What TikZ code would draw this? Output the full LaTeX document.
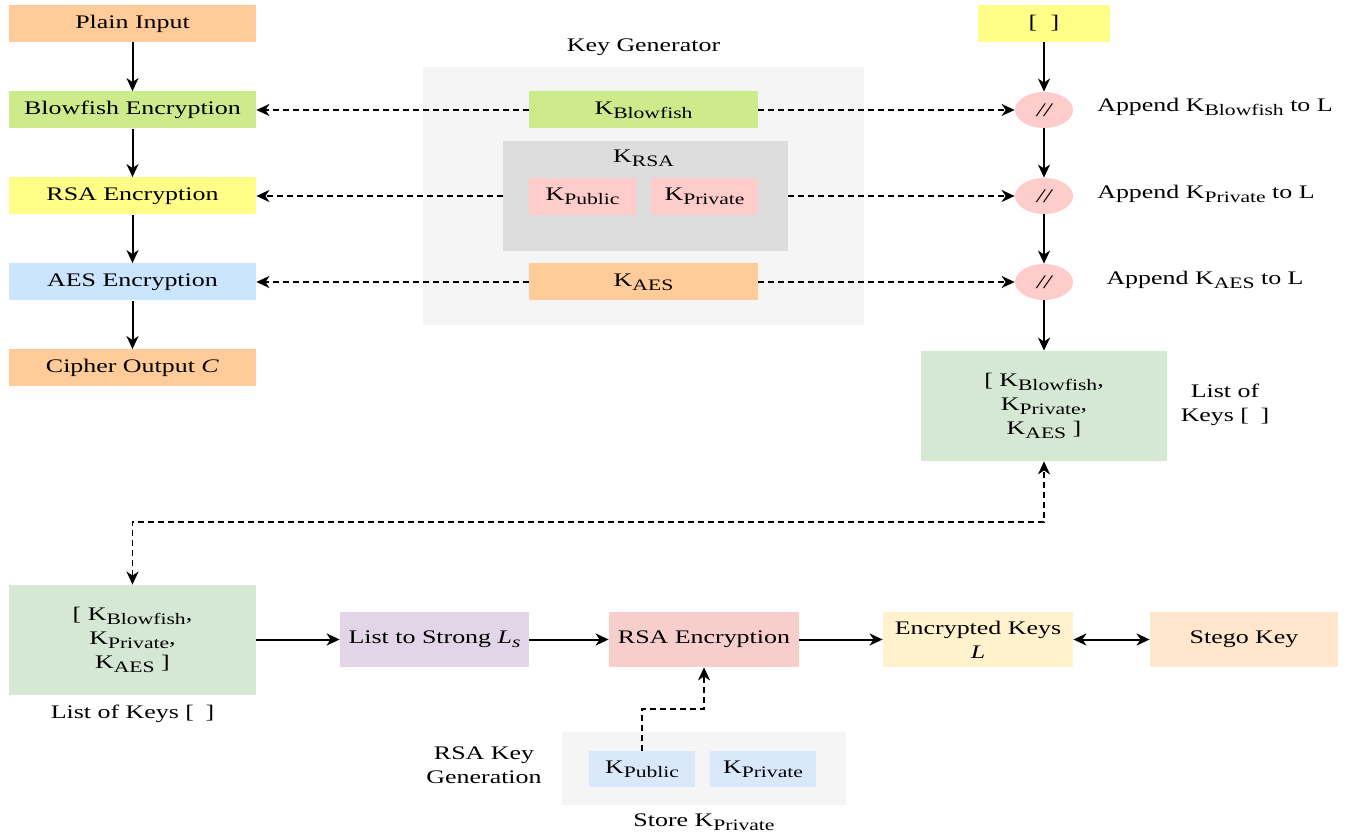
\documentclass[tikz,border=0pt]{standalone}
\usepackage{fontspec}
\setmainfont[FakeStretch=1.35]{Liberation Serif}
\usetikzlibrary{arrows.meta,shapes.geometric}

\definecolor{cOrange}{HTML}{FFCC99}
\definecolor{cGreen}{HTML}{CDEB8B}
\definecolor{cYellow}{HTML}{FFFF88}
\definecolor{cBlue}{HTML}{CCE5FF}
\definecolor{cPanel}{HTML}{F5F5F5}
\definecolor{cRsa}{HTML}{DDDDDD}
\definecolor{cPink}{HTML}{FFCCCC}
\definecolor{cList}{HTML}{D5E8D4}
\definecolor{cPurple}{HTML}{E1D5E7}
\definecolor{cRed}{HTML}{F8CECC}
\definecolor{cCream}{HTML}{FFF2CC}
\definecolor{cPeach}{HTML}{FFE6CC}
\definecolor{cPale}{HTML}{DAE8FC}

% K with a lowered subscript label
\newcommand{\kk}[1]{K\raisebox{-0.45ex}{\fontsize{8}{8}\selectfont #1}}

\tikzset{
  tip/.tip={Stealth[length=6.5pt,width=6pt,inset=2pt]},
  box/.style={rectangle, inner sep=0pt, draw=none, align=center,
    font=\fontsize{9.6}{12}\selectfont},
  lbl/.style={inner sep=0pt, align=center, font=\fontsize{9.6}{12}\selectfont},
  oval/.style={ellipse, fill=cPink, inner sep=0pt, minimum width=29pt,
    minimum height=18pt, font=\fontsize{9.6}{12}\selectfont\itshape},
  flow/.style={line width=1pt, -tip},
  keyflow/.style={line width=0.9pt, dash pattern=on 3pt off 2pt, -tip},
  bothflow/.style={line width=0.9pt, dash pattern=on 3pt off 2pt, tip-tip},
}

\begin{document}
\begin{tikzpicture}[x=0.5pt, y=-0.5pt]
\useasboundingbox (0,0) rectangle (1347,838);

% ---- encryption chain ----
\node[box, fill=cOrange, minimum width=123.5pt, minimum height=18.5pt] (plain) at (132.5,23.5) {Plain Input};
\node[box, fill=cGreen,  minimum width=123.5pt, minimum height=18.5pt] (bf)    at (132.5,110) {Blowfish Encryption};
\node[box, fill=cYellow, minimum width=123.5pt, minimum height=18.5pt] (rsa)   at (132.5,196) {RSA Encryption};
\node[box, fill=cBlue,   minimum width=123.5pt, minimum height=18.5pt] (aes)   at (132.5,282) {AES Encryption};
\node[box, fill=cOrange, minimum width=123.5pt, minimum height=18.5pt] (ciph)  at (132.5,368) {Cipher Output \textit{C}};

\draw[flow] (plain) -- (bf);
\draw[flow] (bf) -- (rsa);
\draw[flow] (rsa) -- (aes);
\draw[flow] (aes) -- (ciph);

% ---- key generator ----
\node[lbl] (kgl) at (643.5,47) {Key Generator};
\node[box, fill=cPanel, minimum width=220.5pt, minimum height=129pt] (kg) at (643.5,196) {};
\node[box, fill=cGreen, minimum width=114.5pt, minimum height=18.5pt] (kbf) at (643.5,110) {\kk{Blowfish}};
\node[box, fill=cRsa, minimum width=142.5pt, minimum height=55pt] (krsa) at (645.5,196) {};
\node[lbl] (krsal) at (643.5,158) {\kk{RSA}};
\node[box, fill=cPink, minimum width=53.5pt, minimum height=18.5pt] (kpub) at (582.5,196.5) {\kk{Public}};
\node[box, fill=cPink, minimum width=53.5pt, minimum height=18.5pt] (kpri) at (704.5,196.5) {\kk{Private}};
\node[box, fill=cOrange, minimum width=114.5pt, minimum height=18.5pt] (kaes) at (643.5,282) {\kk{AES}};

% ---- key list assembly ----
\node[box, fill=cYellow, minimum width=66pt, minimum height=18.5pt] (empty) at (1044,23.5) {[\hspace{0.7em}]};
\node[oval] (c1) at (1044,110) {//};
\node[oval] (c2) at (1044,196) {//};
\node[oval] (c3) at (1044,282) {//};
\node[lbl] (a1) at (1215,107) {Append \kk{Blowfish} to L};
\node[lbl] (a2) at (1206,194) {Append \kk{Private} to L};
\node[lbl] (a3) at (1205,280) {Append \kk{AES} to L};
\node[box, fill=cList, minimum width=123pt, minimum height=55pt] (listR) at (1044,406)
  {[ \kk{Blowfish},\\ \kk{Private},\\ \kk{AES} ]};
\node[lbl] (listRl) at (1225,405) {List of\\Keys [\hspace{0.6em}]};

\draw[flow] (empty) -- (c1);
\draw[flow] (c1) -- (c2);
\draw[flow] (c2) -- (c3);
\draw[flow] (c3) -- (listR);

% key generator to both sides
\draw[keyflow] (kbf.west) -- (bf.east);
\draw[keyflow] (kbf.east) -- (c1.west);
\draw[keyflow] (krsa.west) -- (rsa.east);
\draw[keyflow] (krsa.east) -- (c2.west);
\draw[keyflow] (kaes.west) -- (aes.east);
\draw[keyflow] (kaes.east) -- (c3.west);

% ---- key encryption row ----
\node[box, fill=cList, minimum width=123.5pt, minimum height=55pt] (listL) at (132.5,640)
  {[ \kk{Blowfish},\\ \kk{Private},\\ \kk{AES} ]};
\node[lbl] (listLl) at (132.5,714) {List of Keys [\hspace{0.6em}]};
\node[box, fill=cPurple, minimum width=94.5pt, minimum height=27.5pt] (str) at (434.5,639.5) {List to Strong \textit{L\raisebox{-0.4ex}{\fontsize{8}{8}\selectfont s}}};
\node[box, fill=cRed, minimum width=95pt, minimum height=27.5pt] (rsa2) at (704,639.5) {RSA Encryption};
\node[box, fill=cCream, minimum width=95pt, minimum height=27.5pt] (enc) at (978,639.5) {Encrypted Keys\\\textit{L}};
\node[box, fill=cPeach, minimum width=94pt, minimum height=27.5pt] (stego) at (1244,639.5) {Stego Key};

\coordinate (mid) at (600,522);
\draw[bothflow] (listL.north) |- (mid) -| (listR.south);

\draw[flow] (listL.east |- str) -- (str);
\draw[flow] (str) -- (rsa2);
\draw[flow] (rsa2) -- (enc);
\draw[flow, tip-tip] (enc) -- (stego);

% ---- RSA key generation ----
\node[box, fill=cPanel, minimum width=142pt, minimum height=36.5pt] (gen) at (704,768.5) {};
\node[box, fill=cPale, minimum width=53pt, minimum height=18pt] (bpub) at (642,769) {\kk{Public}};
\node[box, fill=cPale, minimum width=53pt, minimum height=18pt] (bpri) at (763,769) {\kk{Private}};
\node[lbl] (genl) at (484,765) {RSA Key\\Generation};
\node[lbl] (store) at (704,822) {Store \kk{Private}};

\coordinate (mid2) at (670,709);
\draw[keyflow] (bpub.north) |- (mid2) -| (rsa2.south);
\end{tikzpicture}
\end{document}
